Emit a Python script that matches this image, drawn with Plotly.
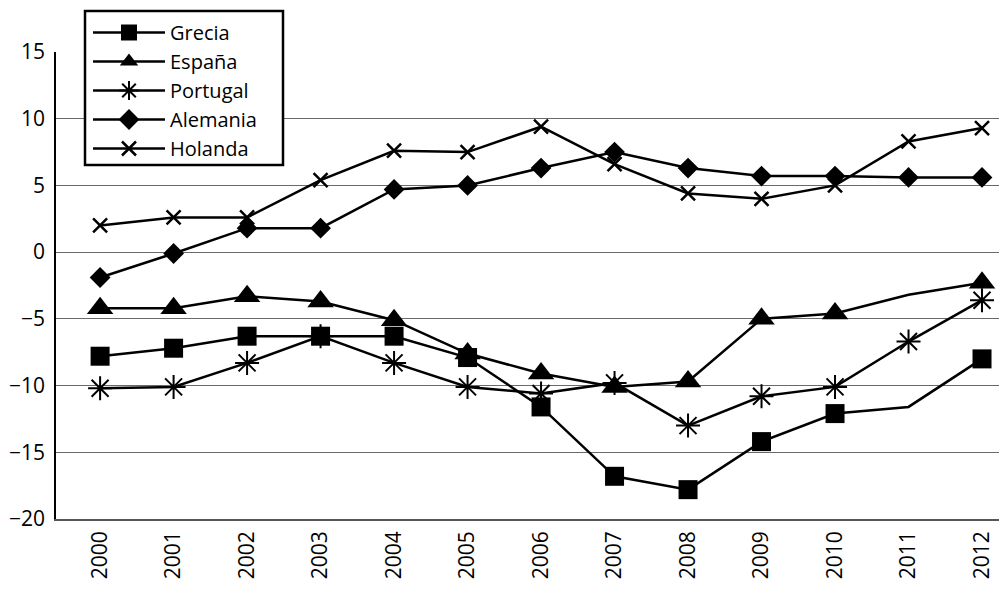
import plotly.graph_objects as go

years = [2000, 2001, 2002, 2003, 2004, 2005, 2006, 2007, 2008, 2009, 2010, 2011, 2012]
grecia = [-7.8, -7.2, -6.3, -6.3, -6.3, -7.9, -11.6, -16.8, -17.8, -14.2, -12.1, -11.6, -8.0]
espana = [-4.2, -4.2, -3.3, -3.7, -5.1, -7.6, -9.1, -10.1, -9.7, -5.0, -4.6, -3.2, -2.3]
portugal = [-10.2, -10.1, -8.3, -6.3, -8.3, -10.1, -10.6, -9.8, -13.0, -10.8, -10.1, -6.7, -3.6]
alemania = [-1.9, -0.1, 1.8, 1.8, 4.7, 5.0, 6.3, 7.5, 6.3, 5.7, 5.7, 5.6, 5.6]
holanda = [2.0, 2.6, 2.6, 5.4, 7.6, 7.5, 9.4, 6.6, 4.4, 4.0, 5.0, 8.3, 9.3]
series_names = ["Grecia", "España", "Portugal", "Alemania", "Holanda"]
ytick_vals = [-20, -15, -10, -5, 0, 5, 10, 15]

FONT = "Open Sans"
FS = 21
LEG_FS = 20
missing_marker_years = {"Grecia": [2011], "España": [2011]}

styles = {
    "Grecia": dict(symbol="square", size=19, lw=0),
    "España": dict(symbol="triangle-up", size=23, lw=0),
    "Portugal": dict(symbol="asterisk-open", size=20, lw=2),
    "Alemania": dict(symbol="diamond", size=16, lw=0),
    "Holanda": dict(symbol="x-thin-open", size=14, lw=2.5),
}
data = {"Grecia": grecia, "España": espana, "Portugal": portugal,
        "Alemania": alemania, "Holanda": holanda}

# the page body has an 8px margin, so the figure is drawn 8px in from the corner
OFF = 8
W, H = 1007 - OFF, 591 - OFF
L, R, T, B = 56 - OFF, 0, 52 - OFF, 72
PW, PH = W - L - R, H - T - B


def px_x(px):
    return (px - OFF - L) / PW


def px_y(py):
    return (H - B - (py - OFF)) / PH


fig = go.Figure()
for name in series_names:
    st = styles[name]
    skip = missing_marker_years.get(name, [])
    sizes = [0 if yr in skip else st["size"] for yr in years]
    fig.add_trace(go.Scatter(
        x=years, y=data[name], name=name, mode="lines+markers",
        line=dict(color="black", width=2.5),
        marker=dict(symbol=st["symbol"], size=sizes, color="black", opacity=1,
                    line=dict(color="black", width=st["lw"])),
        cliponaxis=False,
    ))

fig.update_layout(
    width=W, height=H,
    margin=dict(l=L, r=R, t=T, b=B, autoexpand=False),
    plot_bgcolor="white", paper_bgcolor="white",
    font=dict(family=FONT, size=FS, color="black"),
    showlegend=True,
    legend=dict(
        x=px_x(88), y=px_y(13), xanchor="left", yanchor="top",
        bgcolor="rgba(0,0,0,0)", borderwidth=0,
        font=dict(family=FONT, size=LEG_FS, color="black"),
        itemwidth=72, tracegroupgap=0,
    ),
    shapes=[dict(
        type="rect", xref="paper", yref="paper",
        x0=px_x(85), x1=px_x(283), y0=px_y(165), y1=px_y(11),
        line=dict(color="black", width=2.5), fillcolor="white", layer="above",
    )],
)
fig.update_xaxes(
    range=[1999.40, 2012.34], tickmode="array", tickvals=years,
    ticktext=[str(y) for y in years], tickangle=-90,
    showgrid=False, zeroline=False, showline=True, linecolor="#555555",
    linewidth=1.5, ticks="", ticklabelstandoff=2,
    tickfont=dict(family=FONT, size=FS, color="black"),
)
fig.update_yaxes(
    range=[-20, 15], tickmode="array", tickvals=ytick_vals,
    showgrid=True, gridcolor="#6a6a6a", gridwidth=1, zeroline=False,
    showline=True, linecolor="black", linewidth=1.5, ticks="",
    ticklabelstandoff=5,
    tickfont=dict(family=FONT, size=FS, color="black"),
)
fig.write_html("out.html")
